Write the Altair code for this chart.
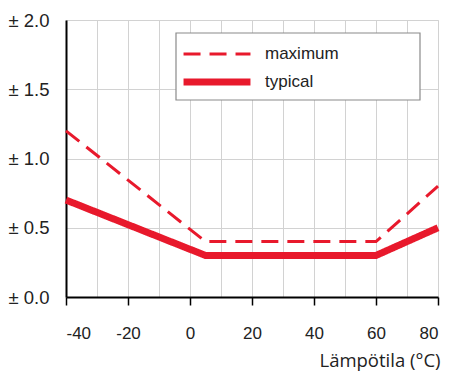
import altair as alt
import pandas as pd

temps = [-40, 5, 60, 80]
maximum_vals = [1.2, 0.4, 0.4, 0.8]
typical_vals = [0.7, 0.3, 0.3, 0.5]
series_names = ["maximum", "typical"]
x_ticks = list(range(-40, 81, 10))
y_ticks = [0.0, 0.5, 1.0, 1.5, 2.0]

rows = []
for t, v in zip(temps, maximum_vals):
    rows.append({"temp": t, "val": v, "series": "maximum"})
for t, v in zip(temps, typical_vals):
    rows.append({"temp": t, "val": v, "series": "typical"})
df = pd.DataFrame(rows)

RED = "#e8192c"

x_enc = alt.X(
    "temp:Q",
    scale=alt.Scale(domain=[-40, 80], nice=False, zero=False),
    axis=alt.Axis(
        values=x_ticks,
        title="Lämpötila (°C)",
        titleFont="Open Sans",
        titleFontSize=18.5,
        titleFontWeight="normal",
        titleColor="#222",
        titleAnchor="end",
        titleAlign="right",
        titleBaseline="alphabetic",
        titleX=374,
        titleY=69,
        labelExpr="datum.value % 20 === 0 ? '' + datum.value : ''",
        labelFont="Liberation Sans",
        labelFontSize=17,
        labelColor="#222",
        labelPadding=20,
        tickSize=8,
        tickWidth=1.5,
        tickColor={"condition": {"test": "datum.value % 20 === 0", "value": "black"}, "value": "transparent"},
        domainColor="black",
        domainWidth=2,
        grid=True,
        gridColor="#d2d2d2",
        gridWidth=1,
    ),
)
y_enc = alt.Y(
    "val:Q",
    scale=alt.Scale(domain=[0, 2.0], nice=False),
    axis=alt.Axis(
        values=y_ticks,
        title=None,
        labelExpr="'± ' + format(datum.value, '.1f')",
        labelFont="Liberation Sans",
        labelFontSize=18.5,
        labelColor="#222",
        labelPadding=17,
        ticks=False,
        domainColor="black",
        domainWidth=2,
        grid=True,
        gridColor="#d2d2d2",
        gridWidth=1,
    ),
)

legend = alt.Legend(
    title=None,
    orient="none",
    legendX=139,
    legendY=24,
    symbolType="M-4,0H4",
    symbolSize=280,
    symbolStrokeColor=RED,
    labelFont="Liberation Sans",
    labelFontSize=17,
    labelColor="#222",
    labelOffset=36,
    rowPadding=6,
    padding=0,
)

lines = alt.Chart(df).mark_line(color=RED, strokeJoin="miter").encode(
    x=x_enc,
    y=y_enc,
    strokeDash=alt.StrokeDash(
        "series:N",
        scale=alt.Scale(domain=series_names, range=[[17, 9], [1, 0]]),
        legend=legend,
    ),
    strokeWidth=alt.StrokeWidth(
        "series:N",
        scale=alt.Scale(domain=series_names, range=[3, 7]),
        legend=legend,
    ),
    detail="series:N",
)

frame = alt.Chart(pd.DataFrame({"k": [0]})).mark_rect(
    fill="white", stroke="#8a8a8a", strokeWidth=1.2
).encode(
    x=alt.value(110), x2=alt.value(354), y=alt.value(13), y2=alt.value(80)
)

chart = alt.layer(lines, frame).properties(
    width=372,
    height=277,
    autosize=alt.AutoSizeParams(type="none"),
    padding={"left": 58, "top": 12, "right": 3, "bottom": 76},
).configure_view(stroke="#333", strokeWidth=2).configure(background="white")

chart.save("out.html", embed_options={"renderer": "svg", "actions": False})
